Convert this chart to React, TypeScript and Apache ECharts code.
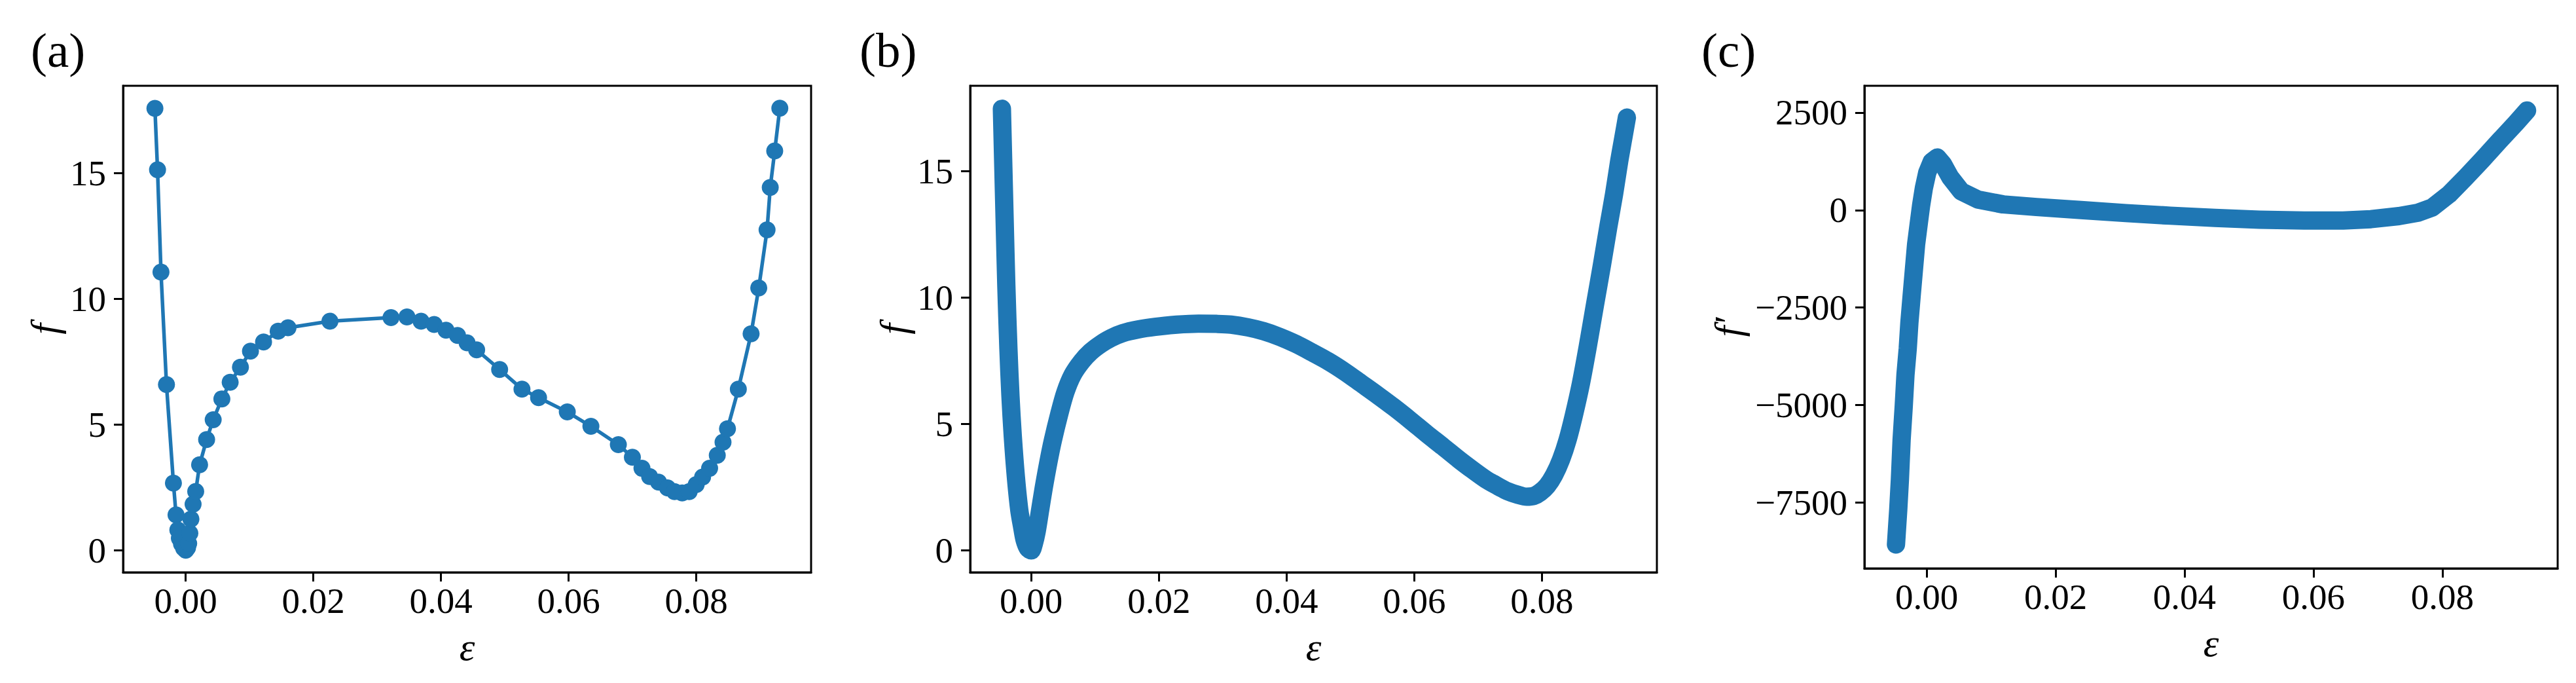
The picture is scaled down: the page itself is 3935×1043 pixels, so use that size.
import React, { useEffect, useRef } from "react";
import * as echarts from "echarts";

// Panel (a): sampled points (markers + line)
const epsA = [-0.00481, -0.0044, -0.00386, -0.003, -0.00191, -0.0015, -0.00122, -0.00098, -0.00064, -0.0003, 0.00002, 0.0003, 0.00048, 0.00066, 0.00083, 0.00117, 0.00158, 0.00219, 0.00329, 0.00432, 0.00568, 0.00698, 0.00859, 0.01016, 0.01221, 0.0145, 0.01604, 0.02261, 0.03218, 0.03468, 0.03689, 0.03894, 0.0408, 0.0426, 0.0441, 0.0456, 0.0492, 0.0527, 0.0553, 0.0598, 0.0635, 0.0678, 0.07, 0.0715, 0.0727, 0.0741, 0.0755, 0.0766, 0.0778, 0.0789, 0.08, 0.081, 0.0821, 0.0833, 0.0842, 0.0849, 0.0866, 0.0886, 0.0898, 0.0911, 0.0916, 0.0923, 0.0931];
const fA = [17.57, 15.13, 11.06, 6.59, 2.67, 1.41, 0.81, 0.48, 0.25, 0.08, 0.0, 0.1, 0.27, 0.68, 1.24, 1.83, 2.34, 3.4, 4.4, 5.19, 6.02, 6.68, 7.28, 7.92, 8.28, 8.71, 8.85, 9.11, 9.25, 9.28, 9.11, 8.98, 8.75, 8.54, 8.25, 7.97, 7.19, 6.41, 6.07, 5.5, 4.93, 4.2, 3.7, 3.26, 2.93, 2.71, 2.48, 2.33, 2.28, 2.33, 2.61, 2.91, 3.26, 3.78, 4.3, 4.83, 6.41, 8.61, 10.43, 12.74, 14.43, 15.88, 17.58];

// Panel (b): dense curve f(eps)
const epsB = [-0.00459, -0.0044, -0.00417, -0.0039, -0.00357, -0.00325, -0.00289, -0.0024, -0.00187, -0.0014, -0.00102, -0.0005, 0.0, 0.0004, 0.00085, 0.0014, 0.00196, 0.0027, 0.0034, 0.0044, 0.00536, 0.0065, 0.0079, 0.0093, 0.0109, 0.0125, 0.0143, 0.0168, 0.0194, 0.0228, 0.0262, 0.029, 0.0313, 0.034, 0.0364, 0.039, 0.0415, 0.044, 0.0466, 0.0492, 0.0517, 0.0543, 0.0568, 0.0594, 0.0619, 0.0645, 0.067, 0.0692, 0.0712, 0.073, 0.0746, 0.0762, 0.0776, 0.0787, 0.0797, 0.0808, 0.0819, 0.083, 0.084, 0.085, 0.0861, 0.0872, 0.0883, 0.0894, 0.0904, 0.0913, 0.0921, 0.0928, 0.0933];
const fB = [17.47, 15.5, 13.16, 10.5, 7.98, 6.1, 4.53, 2.9, 1.6, 0.9, 0.4, 0.08, 0.0, 0.25, 0.74, 1.6, 2.47, 3.5, 4.36, 5.4, 6.26, 6.95, 7.47, 7.85, 8.16, 8.4, 8.59, 8.74, 8.84, 8.93, 8.97, 8.96, 8.93, 8.82, 8.67, 8.44, 8.16, 7.83, 7.47, 7.05, 6.6, 6.13, 5.66, 5.14, 4.62, 4.1, 3.59, 3.17, 2.81, 2.55, 2.34, 2.2, 2.12, 2.15, 2.29, 2.55, 2.98, 3.6, 4.36, 5.35, 6.6, 8.1, 9.71, 11.3, 12.81, 14.1, 15.4, 16.4, 17.12];

// Panel (c): derivative f'(eps)
const epsC = [-0.00476, -0.00441, -0.00415, -0.00389, -0.00355, -0.00329, -0.00294, -0.00268, -0.00234, -0.00199, -0.00164, -0.00121, -0.00086, -0.00043, 0.00009, 0.00078, 0.00164, 0.00251, 0.00363, 0.00536, 0.00796, 0.01185, 0.01704, 0.02396, 0.03088, 0.0378, 0.04472, 0.05163, 0.05855, 0.06461, 0.06893, 0.07326, 0.07628, 0.07845, 0.08104, 0.08364, 0.08623, 0.08883, 0.09142, 0.09315];
const dfC = [-8582, -7689, -6908, -5904, -5011, -4230, -3560, -2890, -2221, -1551, -882, -324, 123, 569, 960, 1239, 1350, 1183, 848, 480, 268, 145, 78, 0, -78, -145, -201, -246, -268, -268, -234, -156, -67, 67, 402, 840, 1295, 1770, 2230, 2556];

const xTicks = [0, 0.02, 0.04, 0.06, 0.08];
const fTicks = [0, 5, 10, 15];
const dfTicks = [-7500, -5000, -2500, 0, 2500];
const panelLabels = ["(a)", "(b)", "(c)"];
const yNames = ["f", "f", "f\u2032"];

const BLUE = "#1f77b4";
const SERIF = "'Liberation Serif', 'Times New Roman', serif";

export default function App() {
  const ref = useRef<HTMLDivElement>(null);

  useEffect(() => {
    document.body.style.margin = "0";
    const chart = echarts.init(ref.current as HTMLDivElement, null, { renderer: "svg" });

    const grids = [
      { left: 188, top: 131, width: 1051, height: 743 },
      { left: 1482, top: 131, width: 1049, height: 743 },
      { left: 2848, top: 131, width: 1059, height: 737 },
    ];
    const xRanges = [
      [-0.0098, 0.098],
      [-0.00956, 0.098],
      [-0.00966, 0.0979],
    ];
    const yRanges = [
      [-0.877, 18.47],
      [-0.87, 18.38],
      [-9197, 3189],
    ];
    const yTickSets = [fTicks, fTicks, dfTicks];
    const yNameGaps = [90, 87, 178];
    const labelPos = [
      [47, 76],
      [1313, 76],
      [2599, 76],
    ];

    const tickStyle = { color: "#000", width: 3 };
    const labelStyle = { fontFamily: SERIF, fontSize: 55, color: "#000" };
    const nameStyle = { fontFamily: SERIF, fontStyle: "italic" as const, fontSize: 60, color: "#000" };

    const fmtY = (v: number) => (v < 0 ? "\u2212" + Math.abs(v) : String(v));

    const option: any = {
      animation: false,
      backgroundColor: "#fff",
      grid: grids.map((g) => ({
        ...g,
        show: true,
        borderColor: "#000",
        borderWidth: 3,
        backgroundColor: "transparent",
        containLabel: false,
        outerBoundsMode: "none",
      })),
      xAxis: grids.map((_, i) => ({
        type: "value",
        gridIndex: i,
        min: xRanges[i][0],
        max: xRanges[i][1],
        position: "bottom",
        axisLine: { show: true, onZero: false, lineStyle: tickStyle },
        splitLine: { show: false },
        axisTick: { show: true, inside: false, customValues: xTicks, length: 14, lineStyle: tickStyle },
        axisLabel: {
          customValues: xTicks,
          formatter: (v: number) => v.toFixed(2),
          margin: 16,
          ...labelStyle,
        },
        name: "\u03b5",
        nameLocation: "middle",
        nameGap: 84,
        nameTextStyle: nameStyle,
      })),
      yAxis: grids.map((_, i) => ({
        type: "value",
        gridIndex: i,
        min: yRanges[i][0],
        max: yRanges[i][1],
        position: "left",
        axisLine: { show: true, onZero: false, lineStyle: tickStyle },
        splitLine: { show: false },
        axisTick: { show: true, inside: false, customValues: yTickSets[i], length: 14, lineStyle: tickStyle },
        axisLabel: {
          customValues: yTickSets[i],
          formatter: fmtY,
          margin: 26,
          ...labelStyle,
        },
        name: yNames[i],
        nameLocation: "middle",
        nameGap: yNameGaps[i],
        nameTextStyle: nameStyle,
      })),
      graphic: panelLabels.map((t, i) => ({
        type: "text",
        x: labelPos[i][0],
        y: labelPos[i][1],
        style: {
          text: t,
          fontFamily: SERIF,
          fontSize: 75,
          fill: "#000",
          align: "left",
          verticalAlign: "middle",
        },
      })),
      series: [
        {
          type: "line",
          xAxisIndex: 0,
          yAxisIndex: 0,
          data: epsA.map((x, i) => [x, fA[i]]),
          symbol: "circle",
          symbolSize: 26,
          showSymbol: true,
          lineStyle: { color: BLUE, width: 5.5 },
          itemStyle: { color: BLUE },
          clip: false,
        },
        {
          type: "line",
          xAxisIndex: 1,
          yAxisIndex: 1,
          data: epsB.map((x, i) => [x, fB[i]]),
          symbol: "none",
          smooth: 0.3,
          lineStyle: { color: BLUE, width: 28, cap: "round", join: "round" },
          itemStyle: { color: BLUE },
          clip: false,
        },
        {
          type: "line",
          xAxisIndex: 2,
          yAxisIndex: 2,
          data: epsC.map((x, i) => [x, dfC[i]]),
          symbol: "none",
          smooth: false,
          lineStyle: { color: BLUE, width: 28, cap: "round", join: "round" },
          itemStyle: { color: BLUE },
          clip: false,
        },
      ],
    };

    chart.setOption(option);
    return () => chart.dispose();
  }, []);

  return (
    <div
      ref={ref}
      style={{ position: "absolute", left: 0, top: 0, width: 3935, height: 1043 }}
    />
  );
}
